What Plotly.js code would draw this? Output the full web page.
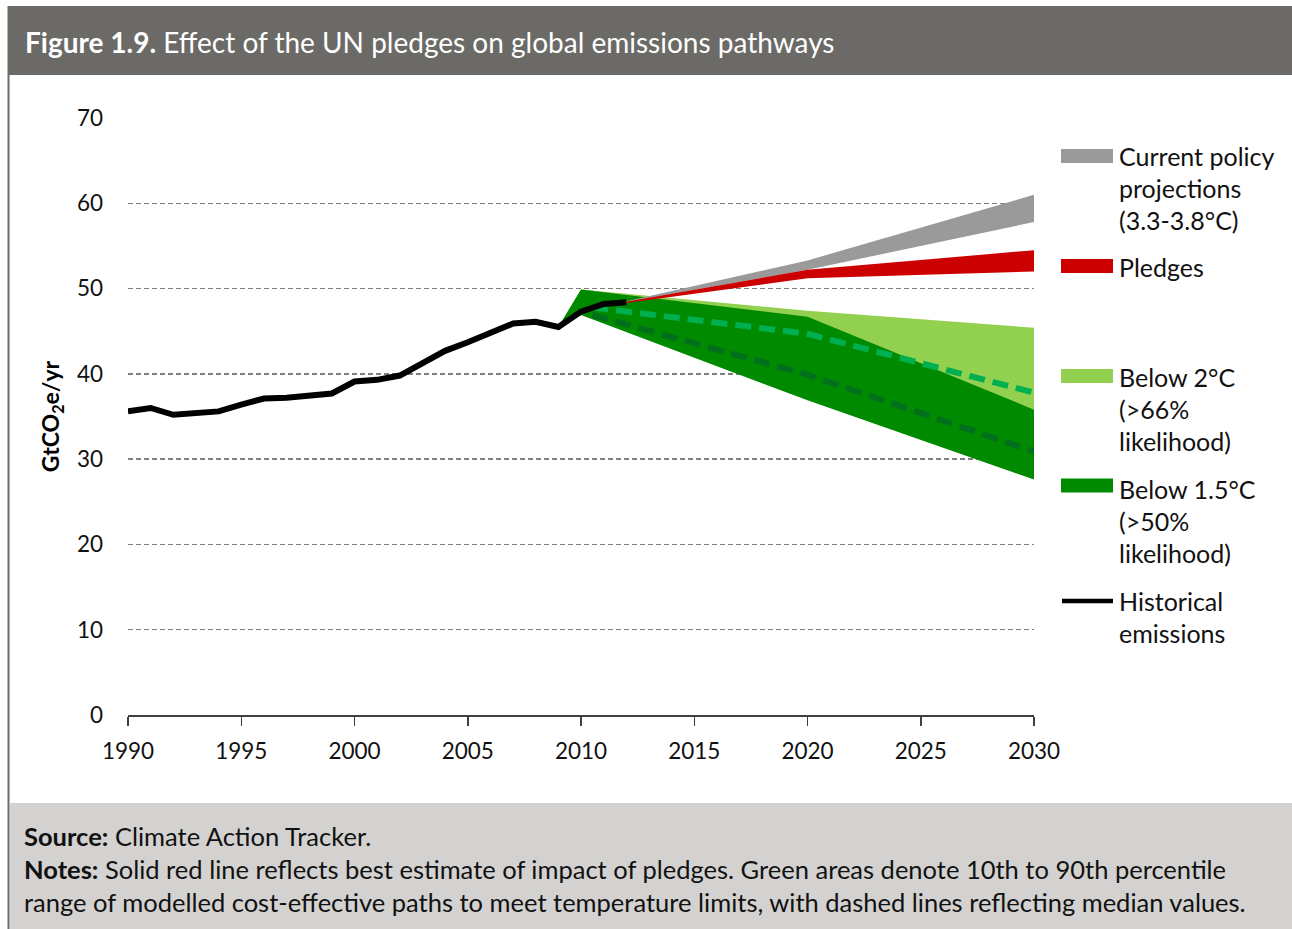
<!DOCTYPE html>
<html>
<head>
<meta charset="utf-8">
<script src="https://cdn.plot.ly/plotly-3.0.1.min.js"></script>
<style>
  html, body { margin: 0; padding: 0; background: #ffffff; }
  #chart { width: 1292px; height: 929px; }
</style>
</head>
<body>
<div id="chart"></div>
<script>
// Historical global emissions, GtCO2e/yr
const histYears = [1990, 1991, 1992, 1993, 1994, 1995, 1996, 1997, 1998, 1999, 2000, 2001,
                   2002, 2003, 2004, 2005, 2006, 2007, 2008, 2009, 2010, 2011, 2012];
const histValues = [35.6, 36.0, 35.2, 35.4, 35.6, 36.4, 37.1, 37.2, 37.4, 37.7, 39.1, 39.3,
                    39.8, 41.2, 42.7, 43.7, 44.8, 45.9, 46.1, 45.5, 47.3, 48.2, 48.4];

// Projections from 2012: current policy and pledges ranges
const projYears = [2012, 2020, 2030];
const currentHigh = [48.5, 53.3, 61.0];
const currentLow = [48.4, 52.2, 57.8];
const pledgeHigh = [48.45, 52.2, 54.5];
const pledgeLow = [48.3, 51.2, 52.0];

// Cost-effective pathways: 10th-90th percentile ranges
const pathYears = [2009, 2010, 2020, 2030];
const below2High = [45.5, 49.9, 47.4, 45.4];
const below2Low = [45.5, 46.9, 38.5, 31.0];
const below15High = [45.5, 49.9, 46.7, 35.8];
const below15Low = [45.5, 46.9, 36.9, 27.6];

// Median pathways
const medianYears = [2010.5, 2020, 2030];
const below2Median = [47.8, 44.7, 37.8];
const below15Median = [46.9, 39.9, 30.9];

// Axis ticks
const xTicks = [1990, 1995, 2000, 2005, 2010, 2015, 2020, 2025, 2030];
const yTicks = [0, 10, 20, 30, 40, 50, 60, 70];

// Legend entries
const legendLabels = [
  ["Current policy", "projections", "(3.3-3.8°C)"],
  ["Pledges"],
  ["Below 2°C", "(>66%", "likelihood)"],
  ["Below 1.5°C", "(>50%", "likelihood)"],
  ["Historical", "emissions"]
];

const title = "<b>Figure 1.9.</b> Effect of the UN pledges on global emissions pathways";
const footerLines = [
  "<b>Source:</b> Climate Action Tracker.",
  "<b>Notes:</b> Solid red line reflects best estimate of impact of pledges. Green areas denote 10th to 90th percentile",
  "range of modelled cost-effective paths to meet temperature limits, with dashed lines reflecting median values."
];

const FONT = "Lato, 'Open Sans', sans-serif";
const colors = {
  current: "#9a9a9a",
  pledge: "#cc0000",
  below2: "#92d050",
  below15: "#008a00",
  median2: "#00b050",
  median15: "#00701c",
  hist: "#000000",
  header: "#6b6a67",
  footer: "#d3d2d0"
};

// Plot area in pixels; paper coordinates are derived from it
const W = 1292, H = 929;
const plot = { left: 128, right: 1034, top: 118, bottom: 715 };
const px = x => (x - plot.left) / (plot.right - plot.left);
const py = y => (plot.bottom - y) / (plot.bottom - plot.top);

// Closed band polygon from an upper and lower edge
function band(xs, hi, lo, color) {
  return {
    x: xs.concat(xs.slice().reverse()),
    y: hi.concat(lo.slice().reverse()),
    type: "scatter", mode: "lines", fill: "toself",
    fillcolor: color, line: { width: 0, color: color },
    hoverinfo: "skip", showlegend: false
  };
}

const traces = [
  band(pathYears, below2High, below2Low, colors.below2),
  band(pathYears, below15High, below15Low, colors.below15),
  {
    x: medianYears, y: below2Median, type: "scatter", mode: "lines",
    line: { color: colors.median2, width: 6, dash: "16px,8px" }, showlegend: false
  },
  {
    x: medianYears, y: below15Median, type: "scatter", mode: "lines",
    line: { color: colors.median15, width: 6, dash: "16px,8px" }, showlegend: false
  },
  band(projYears, currentHigh, currentLow, colors.current),
  band(projYears, pledgeHigh, pledgeLow, colors.pledge),
  {
    x: histYears, y: histValues, type: "scatter", mode: "lines",
    line: { color: colors.hist, width: 6 }, showlegend: false
  }
];

const shapes = [
  // header band
  { type: "rect", xref: "paper", yref: "paper", x0: px(7.5), x1: px(W), y0: py(75), y1: py(6),
    fillcolor: colors.header, line: { width: 0 } },
  // footer band
  { type: "rect", xref: "paper", yref: "paper", x0: px(10), x1: px(W), y0: py(H), y1: py(803),
    fillcolor: colors.footer, line: { width: 0 } },
  // left frame rule
  { type: "line", xref: "paper", yref: "paper", x0: px(8.5), x1: px(8.5), y0: py(75), y1: py(H),
    line: { color: colors.header, width: 2 } }
];

const annotations = [
  { xref: "paper", yref: "paper", x: px(23), y: py(42), xanchor: "left", yanchor: "middle",
    text: title, showarrow: false, font: { family: FONT, size: 28, color: "#ffffff" } }
];

footerLines.forEach((t, i) => {
  annotations.push({ xref: "paper", yref: "paper", x: px(22), y: py(836 + i * 33),
    xanchor: "left", yanchor: "middle", text: t, showarrow: false,
    font: { family: FONT, size: 25.5, color: "#111111" } });
});

// Legend: swatches and text lines
const legendSwatchY = [156, 266, 376, 485.5, 601];
const legendTextY = [[156, 188, 220], [267], [377, 409, 441], [489, 521, 553], [601, 633]];
const legendColors = [colors.current, colors.pledge, colors.below2, colors.below15, colors.hist];
legendLabels.forEach((lines, i) => {
  if (i < 4) {
    shapes.push({ type: "rect", xref: "paper", yref: "paper",
      x0: px(1061), x1: px(1113), y0: py(legendSwatchY[i] + 7), y1: py(legendSwatchY[i] - 7),
      fillcolor: legendColors[i], line: { width: 0 } });
  } else {
    shapes.push({ type: "line", xref: "paper", yref: "paper",
      x0: px(1062), x1: px(1113), y0: py(legendSwatchY[i]), y1: py(legendSwatchY[i]),
      line: { color: legendColors[i], width: 4.5 } });
  }
  lines.forEach((t, j) => {
    annotations.push({ xref: "paper", yref: "paper", x: px(1117), y: py(legendTextY[i][j]),
      xanchor: "left", yanchor: "middle", text: t, showarrow: false,
      font: { family: FONT, size: 25, color: "#111111" } });
  });
});

const layout = {
  width: W, height: H,
  margin: { l: plot.left, r: W - plot.right, t: plot.top, b: H - plot.bottom, pad: 0 },
  paper_bgcolor: "#ffffff", plot_bgcolor: "#ffffff",
  font: { family: FONT, size: 22, color: "#111111" },
  showlegend: false,
  xaxis: {
    range: [1990, 2030], tickvals: xTicks, ticktext: xTicks.map(String),
    ticks: "outside", ticklen: 9, tickwidth: 1.5, tickcolor: "#404040",
    showline: true, linecolor: "#404040", linewidth: 1.5,
    showgrid: false, zeroline: false, fixedrange: true,
    ticklabelstandoff: 6,
    tickfont: { family: FONT, size: 22.5, color: "#111111" }
  },
  yaxis: {
    range: [0, 70], tickvals: yTicks, ticktext: yTicks.map(String),
    ticks: "", showline: false, zeroline: false, fixedrange: true,
    showgrid: true, gridcolor: "#7f7f7f", gridwidth: 1.5, griddash: "5px,3px",
    ticklabelstandoff: 24,
    tickfont: { family: FONT, size: 22.5, color: "#111111" },
    title: { text: "<b>GtCO<sub>2</sub>e/yr</b>", standoff: 10,
             font: { family: FONT, size: 23, color: "#000000", weight: 900 } }
  },
  shapes: shapes,
  annotations: annotations
};

Plotly.newPlot("chart", traces, layout, { displayModeBar: false, staticPlot: true });
</script>
</body>
</html>
